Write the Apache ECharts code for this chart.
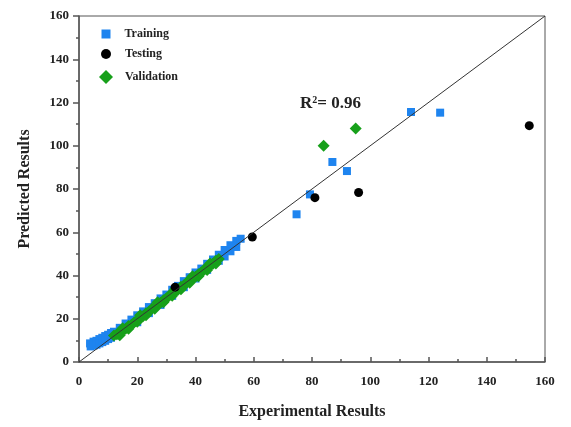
<!DOCTYPE html>
<html>
<head>
<meta charset="utf-8">
<script src="https://cdn.jsdelivr.net/npm/echarts@6/dist/echarts.min.js"></script>
<style>
  html, body { margin: 0; padding: 0; background: #fff; }
  #chart { width: 571px; height: 427px; }
</style>
</head>
<body>
<div id="chart"></div>
<script>
// Experimental vs predicted values for each data split
const training = [
  // upper edge of the dense band
  [3.8, 8.6], [5, 9.4], [6, 9.8], [7, 10.6], [8, 11.2], [9, 12], [10, 12.6], [11, 13.4],
  [12, 14], [14, 15.8], [16, 17.8], [18, 19.6], [20, 21.6], [22, 23.4], [24, 25.4],
  [26, 27.2], [28, 29.4], [30, 31.2], [32, 33.4], [34, 35.2], [36, 37.4], [38, 39.2],
  [40, 41.4], [42, 43.2], [44, 45.4], [46, 47.4], [48, 49.6], [50, 51.8], [52, 54],
  [54, 56], [55.5, 57],
  // lower edge of the dense band
  [4, 7.2], [5, 7.6], [6, 8], [7, 8.6], [8, 9.2], [9, 9.8], [10, 10.6], [11, 11.2],
  [20, 18.4], [24, 22.6], [28, 26.4], [32, 30.6], [36, 34.6], [40, 38.6], [44, 42.6],
  [48, 46.8], [50, 48.8], [52, 51.2], [54, 53.2],
  // scattered high values
  [74.7, 68.3], [79.3, 77.5], [87, 92.5], [92, 88.3], [114, 115.6], [124, 115.3]
];
const validation = [
  [12, 12.2], [13, 12.8], [14, 13.8], [15, 14.6], [16, 15.4], [17, 16.6], [18, 17.2],
  [19, 18.4], [20, 19.2], [21, 20.4], [22, 21.2], [23, 22.6], [24, 23.2], [25, 24.6],
  [26, 25.2], [27, 26.6], [28, 27.4], [29, 28.6], [30, 29.4], [31, 30.8], [32, 31.4],
  [33, 32.8], [34, 33.4], [35, 34.8], [36, 35.4], [37, 36.8], [38, 37.4], [39, 38.8],
  [40, 39.4], [41, 40.6], [42, 41.4], [43, 42.8], [44, 43.4], [45, 44.6], [46, 45.4],
  [47, 46.8], [48, 47.6],
  [14, 12.4], [17, 15.4], [20, 18.6], [23, 21.6], [26, 24.6], [29, 27.6], [32, 30.6],
  [35, 33.6], [38, 36.6], [41, 39.6], [44, 42.6], [47, 45.6],
  [15, 15.6], [21, 21.6], [27, 27.6], [33, 33.6], [39, 39.6], [45, 45.6],
  [84, 100], [95, 108]
];
const testing = [
  [33, 34.6], [59.5, 57.8], [81, 76], [96, 78.4], [154.6, 109.3]
];
// Ideal fit y = x
const fitLine = [[0, 0], [160, 160]];
const axisTicks = { min: 0, max: 160, interval: 20 };
const r2Value = '0.96';

const serif = 'Liberation Serif, Times New Roman, serif';
const axisGray = '#555';
const legendText = {
  fontFamily: serif, fontWeight: 'bold', fontSize: 12, color: '#222'
};

const chart = echarts.init(document.getElementById('chart'), null, { renderer: 'canvas' });
chart.setOption({
  animation: false,
  backgroundColor: '#fff',
  grid: {
    left: 79, right: 26, top: 16, bottom: 65,
    show: true, borderColor: axisGray, borderWidth: 1
  },
  // one legend block per entry so each marker keeps its own size
  legend: [
    {
      data: ['Training'], left: 96.5, top: 23, itemWidth: 9, itemHeight: 9,
      textStyle: Object.assign({ padding: [0, 0, 0, 9] }, legendText)
    },
    {
      data: ['Testing'], left: 96, top: 43, itemWidth: 10, itemHeight: 10,
      textStyle: Object.assign({ padding: [0, 0, 0, 9] }, legendText)
    },
    {
      data: ['Validation'], left: 94, top: 65, itemWidth: 14, itemHeight: 14,
      textStyle: Object.assign({ padding: [0, 0, 0, 7] }, legendText)
    }
  ],
  xAxis: {
    type: 'value',
    min: axisTicks.min, max: axisTicks.max, interval: axisTicks.interval,
    name: 'Experimental Results',
    nameLocation: 'middle', nameGap: 42,
    nameTextStyle: { fontFamily: serif, fontWeight: 'bold', fontSize: 16, color: '#222' },
    axisLine: { show: true, lineStyle: { color: axisGray, width: 1.5 } },
    axisTick: { show: true, inside: true, length: 5, lineStyle: { color: axisGray, width: 1.5 } },
    minorTick: { show: true, splitNumber: 2, length: 3, lineStyle: { color: axisGray, width: 1.5 } },
    axisLabel: { fontFamily: serif, fontWeight: 'bold', fontSize: 13, color: '#222', margin: 13 },
    splitLine: { show: false }
  },
  yAxis: {
    type: 'value',
    min: axisTicks.min, max: axisTicks.max, interval: axisTicks.interval,
    name: 'Predicted Results',
    nameLocation: 'middle', nameGap: 46,
    nameTextStyle: { fontFamily: serif, fontWeight: 'bold', fontSize: 16, color: '#222' },
    axisLine: { show: true, lineStyle: { color: axisGray, width: 1.5 } },
    axisTick: { show: true, inside: false, length: 6, lineStyle: { color: axisGray, width: 1.5 } },
    minorTick: { show: true, splitNumber: 2, length: 3, lineStyle: { color: axisGray, width: 1.5 } },
    axisLabel: { fontFamily: serif, fontWeight: 'bold', fontSize: 13, color: '#222', margin: 10 },
    splitLine: { show: false }
  },
  graphic: [{
    type: 'text',
    left: 300, top: 95,
    style: {
      text: '{a|R}{b|2}{a|= ' + r2Value + '}',
      rich: {
        a: { fontFamily: serif, fontWeight: 'bold', fontSize: 17, fill: '#222' },
        b: { fontFamily: serif, fontWeight: 'bold', fontSize: 10, fill: '#222', padding: [0, 0, 8, 0] }
      }
    }
  }],
  series: [
    {
      name: 'Training', type: 'scatter', data: training,
      symbol: 'rect', symbolSize: 8,
      itemStyle: { color: '#1e84ef', opacity: 1 }
    },
    {
      name: 'Validation', type: 'scatter', data: validation,
      symbol: 'diamond', symbolSize: 12,
      itemStyle: { color: '#17a01a', opacity: 1 }
    },
    {
      name: 'Fit', type: 'line', data: fitLine,
      showSymbol: false, symbol: 'none',
      lineStyle: { color: '#333', width: 1 },
      silent: true
    },
    {
      name: 'Testing', type: 'scatter', data: testing,
      symbol: 'circle', symbolSize: 9,
      itemStyle: { color: '#000', opacity: 1 }
    }
  ]
});
</script>
</body>
</html>
